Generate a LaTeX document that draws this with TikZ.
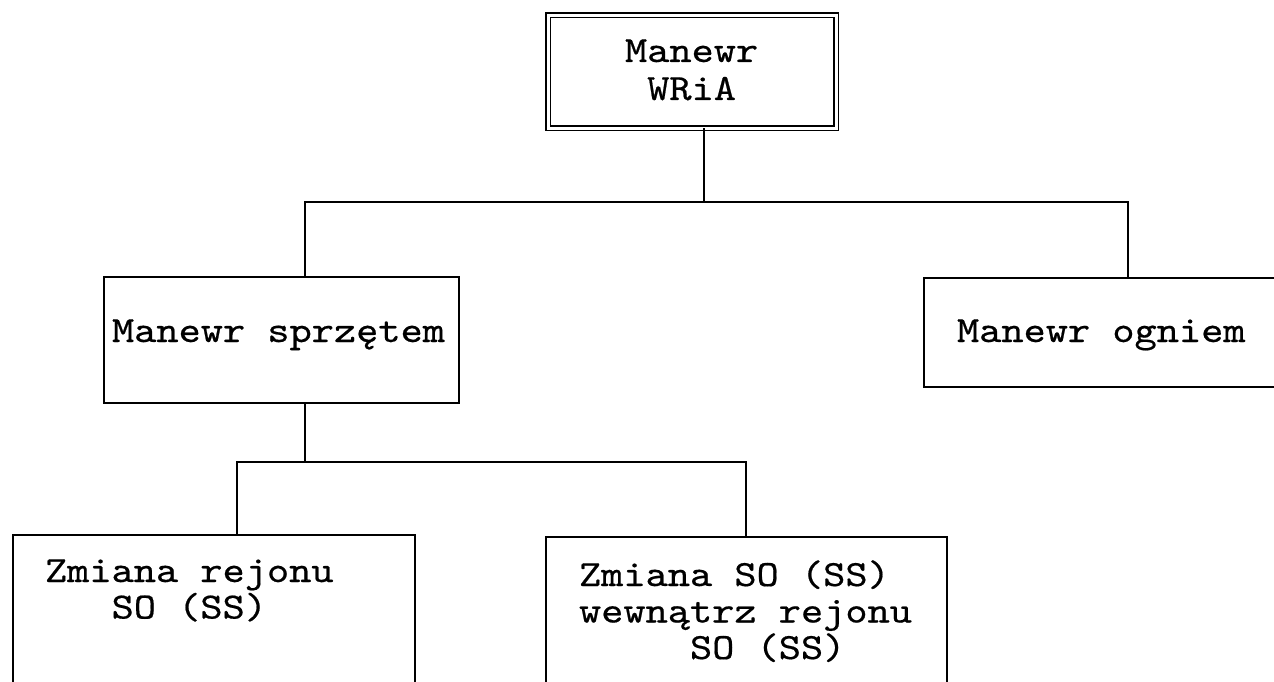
\documentclass[tikz,border=0pt]{standalone}
\usepackage{fontspec}
\newfontfamily\typw{lmmono10-regular.otf}[FakeBold=0.5,FakeStretch=1.143]
% stacked lines with a fixed baseline pitch; the block's baseline is that of its first line
\newcommand\wiersze[2]{\vtop{\baselineskip=#1\lineskiplimit=-100pt\lineskip=0pt #2}}
\begin{document}
\begin{tikzpicture}[x=1pt,y=-1pt,
  frame/.style={draw, line width=1.6pt, rectangle, inner sep=0pt, outer sep=0pt, anchor=north west},
  lbl/.style={anchor=base west, inner sep=0pt, outer sep=0pt, font=\typw\fontsize{37}{38}\selectfont},
  wire/.style={line width=1.6pt}]
\clip (0,0) rectangle (1274,682);
\fill[white] (0,0) rectangle (1274,682);

% boxes
\node[frame, double, double distance=3pt, line width=1.5pt,
      minimum width=288pt, minimum height=113pt] (root) at (548,15.5) {};
\node[frame, minimum width=355pt, minimum height=126pt] (lewy) at (104,277) {};
\node[frame, minimum width=376pt, minimum height=109pt] (prawy) at (924,278) {};
\node[frame, minimum width=402pt, minimum height=200pt] (dl) at (13,535) {};
\node[frame, minimum width=401pt, minimum height=200pt] (dp) at (546,537) {};

% texts
\node[lbl] (t1) at (625,62) {\wiersze{38pt}{\hbox{Manewr}\hbox{\phantom{M}WRiA}}};
\node[lbl] (t3) at (112,342) {Manewr sprzętem};
\node[lbl] (t4) at (957,342) {Manewr ogniem};
\node[lbl] (t5) at (45,582) {\wiersze{36.5pt}{\hbox{Zmiana rejonu}\hbox{\phantom{SSS}SO (SS)}}};
\node[lbl] (t7) at (579,586) {\wiersze{36.5pt}{\hbox{Zmiana SO (SS)}\hbox{wewnątrz rejonu}\hbox{\phantom{SSSSS}SO (SS)}}};

% junction points
\coordinate (j1) at (704,202);
\coordinate (a1) at (305,202);
\coordinate (a2) at (1128,202);
\coordinate (b0) at (305,462);
\coordinate (b1) at (237,462);
\coordinate (b2) at (746,462);

% connectors
\draw[wire] (root.south -| j1) -- (j1);
\draw[wire] (a1 |- lewy.north) -- (a1) -- (a2) -- (a2 |- prawy.north);
\draw[wire] (a1 |- lewy.south) -- (b0);
\draw[wire] (b1 |- dl.north) -- (b1) -- (b2) -- (b2 |- dp.north);
\end{tikzpicture}
\end{document}
